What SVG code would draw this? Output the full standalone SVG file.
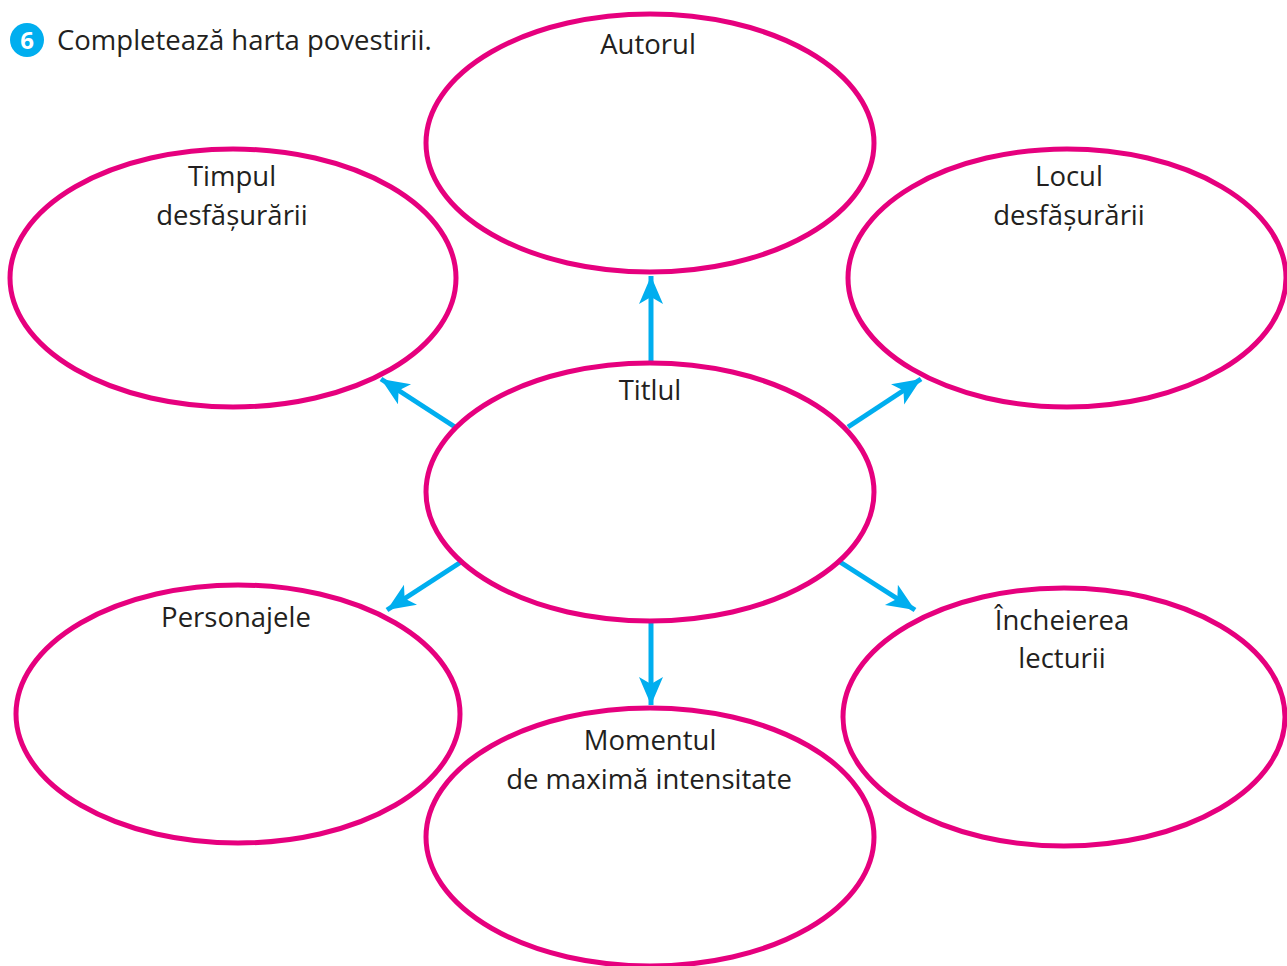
<svg xmlns="http://www.w3.org/2000/svg" width="1287" height="966" viewBox="0 0 1287 966">
<style>
.node ellipse{fill:none;stroke:#E6007E;stroke-width:5}
.lbl{font-family:"Open Sans",Lato,"Liberation Sans",sans-serif;font-size:27.5px;fill:#231F20;text-anchor:middle}
.conn line{stroke:#00AEEF;stroke-width:5;marker-end:url(#ah)}
</style>
<defs>
<marker id="ah" markerUnits="userSpaceOnUse" markerWidth="32" markerHeight="26" refX="28" refY="12" orient="auto" viewBox="0 0 32 26">
<path d="M28,12 L0,0 L7,12 L0,24 Z" fill="#00AEEF"/>
</marker>
</defs>
<rect width="1287" height="966" fill="#fff"/>
<g id="header">
<circle cx="27" cy="40" r="17" fill="#00AEEF"/>
<text x="27" y="49" font-family="'Open Sans',Lato,sans-serif" font-size="24" font-weight="bold" fill="#fff" text-anchor="middle">6</text>
<text x="57" y="50" font-family="'Open Sans',Lato,'Liberation Sans',sans-serif" font-size="27.5" fill="#231F20">Completează harta povestirii.</text>
</g>
<g class="conn" id="connectors">
<line x1="651" y1="362" x2="651" y2="276"/>
<line x1="455" y1="427" x2="381" y2="379"/>
<line x1="848" y1="427" x2="921" y2="379"/>
<line x1="461" y1="562" x2="387" y2="610"/>
<line x1="840" y1="562" x2="915" y2="610"/>
<line x1="651" y1="622" x2="651" y2="705"/>
</g>
<g class="node" id="autorul">
<ellipse cx="650" cy="143" rx="224" ry="129"/>
<text class="lbl" x="648" y="54">Autorul</text>
</g>
<g class="node" id="timpul">
<ellipse cx="233" cy="278" rx="223" ry="129"/>
<text class="lbl" x="232" y="186">Timpul</text>
<text class="lbl" x="232" y="225">desfășurării</text>
</g>
<g class="node" id="locul">
<ellipse cx="1067" cy="278" rx="219" ry="129"/>
<text class="lbl" x="1069" y="186">Locul</text>
<text class="lbl" x="1069" y="225">desfășurării</text>
</g>
<g class="node" id="titlul">
<ellipse cx="650" cy="492" rx="224" ry="129"/>
<text class="lbl" x="650" y="400">Titlul</text>
</g>
<g class="node" id="personajele">
<ellipse cx="238" cy="714" rx="222" ry="129"/>
<text class="lbl" x="236" y="627">Personajele</text>
</g>
<g class="node" id="momentul">
<ellipse cx="650" cy="837" rx="224" ry="129"/>
<text class="lbl" x="650" y="750">Momentul</text>
<text class="lbl" x="649" y="789">de maximă intensitate</text>
</g>
<g class="node" id="incheierea">
<ellipse cx="1064" cy="717" rx="221" ry="129"/>
<text class="lbl" x="1062" y="630">Încheierea</text>
<text class="lbl" x="1062" y="668">lecturii</text>
</g>
</svg>
